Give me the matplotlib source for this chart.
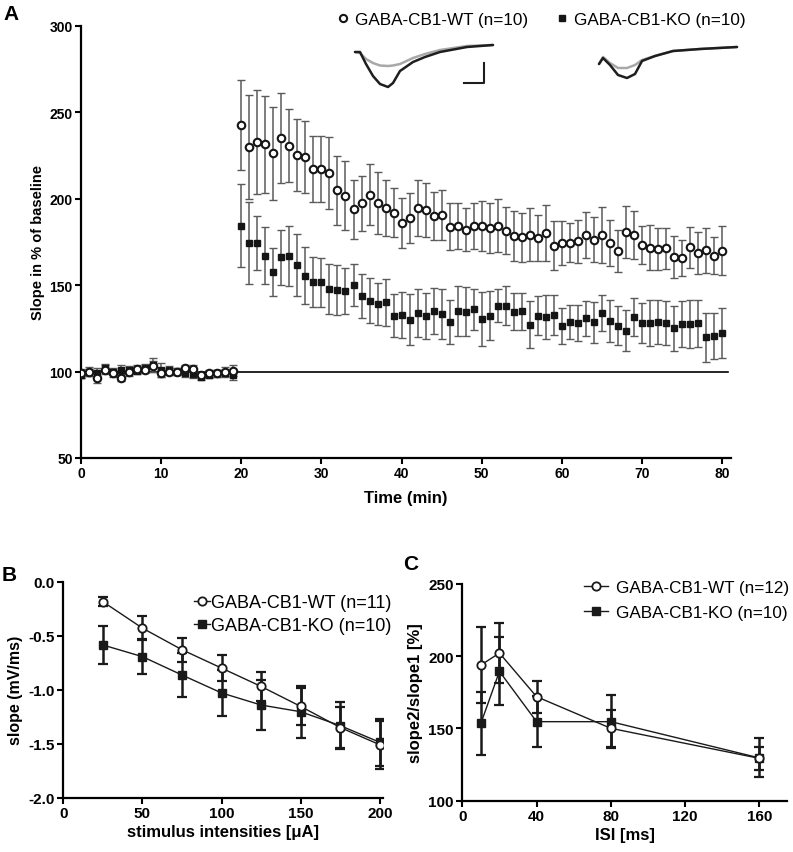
import matplotlib
matplotlib.use("Agg")
import matplotlib.pyplot as plt
from matplotlib.lines import Line2D

plt.rcParams['font.family'] = ['Liberation Sans', 'DejaVu Sans']
plt.rcParams['axes.unicode_minus'] = False

# ---------------- Panel A data ----------------
time_min = list(range(0, 81))

wt_slope = [99, 99.5, 96.5, 101, 99, 96.5, 100, 101.5, 101, 103,
            99, 100, 100, 102, 101.5, 98, 99, 99, 100, 100.5,
            242.8, 229.7, 232.6, 231.4, 226.2, 235.1, 230.6, 225.2, 224.1, 217.0,
            217.0, 214.8, 204.8, 201.7, 193.8, 197.3, 202.3, 197.5, 194.6, 191.9,
            185.7, 188.8, 194.6, 193.4, 190.1, 190.5, 183.8, 184.2, 182.0, 184.0,
            184.2, 183.0, 184.4, 181.5, 178.2, 177.6, 179.2, 177.2, 180.3, 172.8,
            174.2, 174.5, 175.3, 179.0, 176.3, 179.0, 174.3, 169.9, 180.9, 179.2,
            173.2, 171.7, 170.9, 171.3, 166.1, 165.5, 171.8, 168.6, 170.1, 167.0, 169.9]
wt_sem = [2.5, 2, 3, 2.5, 2, 2, 2.5, 2, 2, 3,
          2, 2, 2, 2, 2, 2, 2, 2, 2.5, 3,
          26, 30, 30, 28, 27, 26, 21, 21, 21, 19,
          19, 21, 20, 20, 17, 16, 17.5, 18, 16, 14,
          14.5, 14.5, 16, 15.7, 14, 14.7, 13.7, 13.5, 12.5, 13.3,
          14.3, 14.5, 15.2, 13.5, 14.5, 14, 15.2, 13.3, 16.2, 14.3,
          12.7, 11.4, 12.3, 13.1, 12.9, 16.2, 13.5, 12.1, 15, 13.9,
          11, 13.1, 12.1, 11.8, 12.1, 10.4, 11.8, 12, 12.9, 10.8, 14.1]

ko_slope = [98, 100, 99, 102, 100, 101, 101, 100.5, 102, 104,
            101, 101, 100, 99, 98.5, 97, 98, 99, 99, 98,
            184.4, 174.3, 174.3, 167.0, 157.4, 166.1, 166.6, 161.6, 155.5, 152.0,
            151.6, 147.7, 147.2, 146.6, 150.1, 143.9, 141.0, 139.1, 140.0, 132.3,
            132.7, 130.0, 133.9, 132.3, 135.0, 133.3, 128.5, 135.2, 134.6, 136.0,
            130.4, 132.3, 138.1, 138.1, 134.6, 134.8, 127.1, 132.3, 131.5, 132.7,
            126.5, 128.8, 128.1, 130.8, 128.5, 133.9, 129.2, 126.5, 123.5, 131.4,
            128.1, 128.1, 128.8, 128.1, 125.0, 127.5, 127.5, 127.9, 119.8, 120.6, 122.5]
ko_sem = [2, 2.5, 3, 2.5, 2, 2.5, 2, 2, 2.5, 4,
          4, 2, 2, 2, 2, 2, 2, 2, 2, 3,
          24, 23.7, 15.5, 16.6, 13.9, 15.8, 17.3, 18.2, 16.6, 14.5,
          14.1, 14.4, 14.3, 13.2, 12.3, 12.7, 13.2, 11.9, 13.4, 12.5,
          13.1, 14.7, 14, 13.2, 13.4, 14.5, 12.7, 14.5, 14.3, 12,
          15.8, 14, 9.6, 11.4, 10.6, 10.8, 13.5, 11.4, 12.8, 11.8,
          10.3, 9.9, 10.5, 10, 12, 10.4, 12, 11.4, 11.8, 11,
          11.6, 13.5, 12.8, 12.5, 13.1, 13.5, 13.7, 13.7, 14.3, 13.3, 14.5]

label_wt_A = 'GABA-CB1-WT (n=10)'
label_ko_A = 'GABA-CB1-KO (n=10)'

# example fEPSP traces (ms, mV): baseline (grey) and after LTP induction (black)
trace_t_wt = [0.5, 1.0, 1.6, 2.3, 3.0, 3.8, 4.3, 5.0, 6.3, 7.5, 9.0, 11.7, 14.3]
trace_wt_post = [-0.16, -0.16, -0.40, -0.64, -0.80, -0.86, -0.78, -0.54, -0.36, -0.26, -0.16, -0.06, -0.02]
trace_wt_pre = [-0.16, -0.18, -0.30, -0.38, -0.43, -0.44, -0.43, -0.40, -0.28, -0.20, -0.12, -0.04, -0.02]
trace_t_ko = [0.4, 0.8, 1.5, 2.3, 3.2, 4.0, 4.7, 6.0, 7.8, 10.5, 14.2]
trace_ko_post = [-0.40, -0.28, -0.42, -0.62, -0.68, -0.60, -0.34, -0.24, -0.14, -0.10, -0.06]
trace_ko_pre = [-0.40, -0.26, -0.38, -0.48, -0.48, -0.42, -0.32, -0.24, -0.14, -0.10, -0.06]
scalebar_ms = 2.0
scalebar_mv = 0.4

# ---------------- Panel B data ----------------
stim_uA = [25, 50, 75, 100, 125, 150, 175, 200]
io_wt = [-0.185, -0.43, -0.63, -0.80, -0.97, -1.155, -1.35, -1.51]
io_wt_sem = [0.04, 0.108, 0.113, 0.123, 0.13, 0.17, 0.19, 0.22]
io_ko = [-0.586, -0.694, -0.864, -1.03, -1.142, -1.204, -1.333, -1.487]
io_ko_sem = [0.173, 0.165, 0.205, 0.21, 0.23, 0.24, 0.22, 0.22]
label_wt_B = 'GABA-CB1-WT (n=11)'
label_ko_B = 'GABA-CB1-KO (n=10)'

# ---------------- Panel C data ----------------
isi_ms = [10, 20, 40, 80, 160]
ppf_wt = [193.9, 202.2, 172.0, 150.1, 129.3]
ppf_wt_sem = [26, 21, 11, 12.6, 8]
ppf_ko = [153.5, 189.5, 154.7, 154.7, 129.6]
ppf_ko_sem = [22, 23.5, 17.8, 18.2, 13.5]
label_wt_C = 'GABA-CB1-WT (n=12)'
label_ko_C = 'GABA-CB1-KO (n=10)'

W, H = 793, 853
fig = plt.figure(figsize=(W / 100, H / 100), dpi=100)


def fbox(l, t, r, b):
    return [l / W, 1 - b / H, (r - l) / W, (b - t) / H]


def style_axes(ax, fs):
    for s in ['top', 'right']:
        ax.spines[s].set_visible(False)
    for s in ['left', 'bottom']:
        ax.spines[s].set_linewidth(1.6)
    ax.tick_params(direction='out', length=4, width=1.5, labelsize=fs, pad=2)
    for lab in ax.get_xticklabels() + ax.get_yticklabels():
        lab.set_fontweight('bold')


# ---------------- Panel A ----------------
axA = fig.add_axes(fbox(81, 26.7, 731, 459))
err_col = '#5a5a5a'
axA.axhline(100, xmin=0, xmax=0.995, color='black', lw=1.2, zorder=1)
axA.errorbar(time_min, ko_slope, yerr=ko_sem, fmt='none', ecolor=err_col,
             elinewidth=1.1, capsize=2.6, capthick=1.0, zorder=2)
axA.errorbar(time_min, wt_slope, yerr=wt_sem, fmt='none', ecolor=err_col,
             elinewidth=1.1, capsize=2.6, capthick=1.0, zorder=2)
axA.plot(time_min, ko_slope, ls='none', marker='s', ms=4.2, mfc='#151515',
         mec='#151515', zorder=3)
axA.plot(time_min, wt_slope, ls='none', marker='o', ms=5.4, mfc='white',
         mec='#151515', mew=1.5, zorder=4)
axA.set_xlim(0, 81.1)
axA.set_ylim(50, 300)
axA.set_xticks([0, 10, 20, 30, 40, 50, 60, 70, 80])
axA.set_yticks([50, 100, 150, 200, 250, 300])
style_axes(axA, 10)
axA.set_xlabel('Time (min)', fontsize=12, fontweight='bold', labelpad=7)
axA.set_ylabel('Slope in % of baseline', fontsize=10.5, fontweight='bold', labelpad=3)

hA = [Line2D([], [], ls='none', marker='o', ms=5.2, mfc='white', mec='#151515', mew=1.5),
      Line2D([], [], ls='none', marker='s', ms=4.2, mfc='#151515', mec='#151515')]
axA.legend(hA, [label_wt_A, label_ko_A], ncol=2, loc='upper left',
           bbox_to_anchor=(336 / W, 1 - 13 / H), bbox_transform=fig.transFigure,
           frameon=False, fontsize=12.3, handlelength=0.8, handletextpad=0.3,
           columnspacing=1.6, borderpad=0, borderaxespad=0)

# example traces
for (l, r, tt, post, pre, bar) in [(350, 500, trace_t_wt, trace_wt_post, trace_wt_pre, True),
                                   (595, 745, trace_t_ko, trace_ko_post, trace_ko_pre, False)]:
    axi = fig.add_axes(fbox(l, 42, r, 95))
    axi.plot(tt, pre, color='#a8a8a8', lw=1.8, solid_capstyle='round')
    axi.plot(tt, post, color='#1e1e1e', lw=1.8, solid_capstyle='round')
    if bar:
        x0, y0 = 13.4, -0.78
        axi.plot([x0 - scalebar_ms, x0, x0], [y0, y0, y0 + scalebar_mv],
                 color='#1e1e1e', lw=1.5)
    axi.set_xlim(0, 15)
    axi.set_ylim(-1.0, 0.06)
    axi.axis('off')

# ---------------- Panel B ----------------
axB = fig.add_axes(fbox(63.3, 582.7, 383, 798.7))
axB.errorbar(stim_uA, io_ko, yerr=io_ko_sem, fmt='none', ecolor='#1a1a1a',
             elinewidth=1.8, capsize=3.5, capthick=1.6, zorder=2)
axB.errorbar(stim_uA, io_wt, yerr=io_wt_sem, fmt='none', ecolor='#1a1a1a',
             elinewidth=1.8, capsize=3.5, capthick=1.6, zorder=2)
axB.plot(stim_uA, io_ko, color='#1a1a1a', lw=1.0, marker='s', ms=5.5,
         mfc='#1a1a1a', mec='#1a1a1a', zorder=3, label=label_ko_B)
axB.plot(stim_uA, io_wt, color='#1a1a1a', lw=1.0, marker='o', ms=6, mfc='white',
         mec='#1a1a1a', mew=1.3, zorder=4, label=label_wt_B)
axB.set_xlim(0, 202)
axB.set_ylim(-2.0, 0.0)
axB.set_xticks([0, 50, 100, 150, 200])
axB.set_yticks([0.0, -0.5, -1.0, -1.5, -2.0])
axB.set_yticklabels(['%.1f' % v for v in [0.0, -0.5, -1.0, -1.5, -2.0]])
style_axes(axB, 11)
axB.set_xlabel('stimulus intensities [μA]', fontsize=12, fontweight='bold', labelpad=3)
axB.set_ylabel('slope (mV/ms)', fontsize=11.5, fontweight='bold', labelpad=4)
hB, lB = axB.get_legend_handles_labels()
axB.legend(hB[::-1], lB[::-1], loc='upper left', bbox_to_anchor=(194 / W, 1 - 595 / H),
           bbox_transform=fig.transFigure, frameon=False, fontsize=13,
           handlelength=0.9, handletextpad=0.05, labelspacing=0.35,
           borderpad=0, borderaxespad=0)

# ---------------- Panel C ----------------
axC = fig.add_axes(fbox(462.3, 585, 787.3, 801.7))
axC.errorbar(isi_ms, ppf_ko, yerr=ppf_ko_sem, fmt='none', ecolor='#1a1a1a',
             elinewidth=1.8, capsize=3.5, capthick=1.6, zorder=2)
axC.errorbar(isi_ms, ppf_wt, yerr=ppf_wt_sem, fmt='none', ecolor='#1a1a1a',
             elinewidth=1.8, capsize=3.5, capthick=1.6, zorder=2)
axC.plot(isi_ms, ppf_ko, color='#1a1a1a', lw=1.0, marker='s', ms=5.5,
         mfc='#1a1a1a', mec='#1a1a1a', zorder=3, label=label_ko_C)
axC.plot(isi_ms, ppf_wt, color='#1a1a1a', lw=1.0, marker='o', ms=6, mfc='white',
         mec='#1a1a1a', mew=1.3, zorder=4, label=label_wt_C)
axC.set_xlim(0, 175)
axC.set_ylim(100, 250)
axC.set_xticks([0, 40, 80, 120, 160])
axC.set_yticks([100, 150, 200, 250])
style_axes(axC, 11)
axC.set_xlabel('ISI [ms]', fontsize=12, fontweight='bold', labelpad=3)
axC.set_ylabel('slope2/slope1 [%]', fontsize=12, fontweight='bold', labelpad=4)
hC, lC = axC.get_legend_handles_labels()
axC.legend(hC[::-1], lC[::-1], loc='upper left', bbox_to_anchor=(584 / W, 1 - 581 / H),
           bbox_transform=fig.transFigure, frameon=False, fontsize=12.3,
           handlelength=1.4, handletextpad=0.5, labelspacing=0.6,
           borderpad=0, borderaxespad=0)

# panel letters
fig.text(3 / W, 1 - 14 / H, 'A', fontsize=15, fontweight='bold', va='center', ha='left')
fig.text(2 / W, 1 - 576 / H, 'B', fontsize=15, fontweight='bold', va='center', ha='left')
fig.text(403 / W, 1 - 565 / H, 'C', fontsize=15, fontweight='bold', va='center', ha='left')

fig.savefig('out.png', dpi=100)
